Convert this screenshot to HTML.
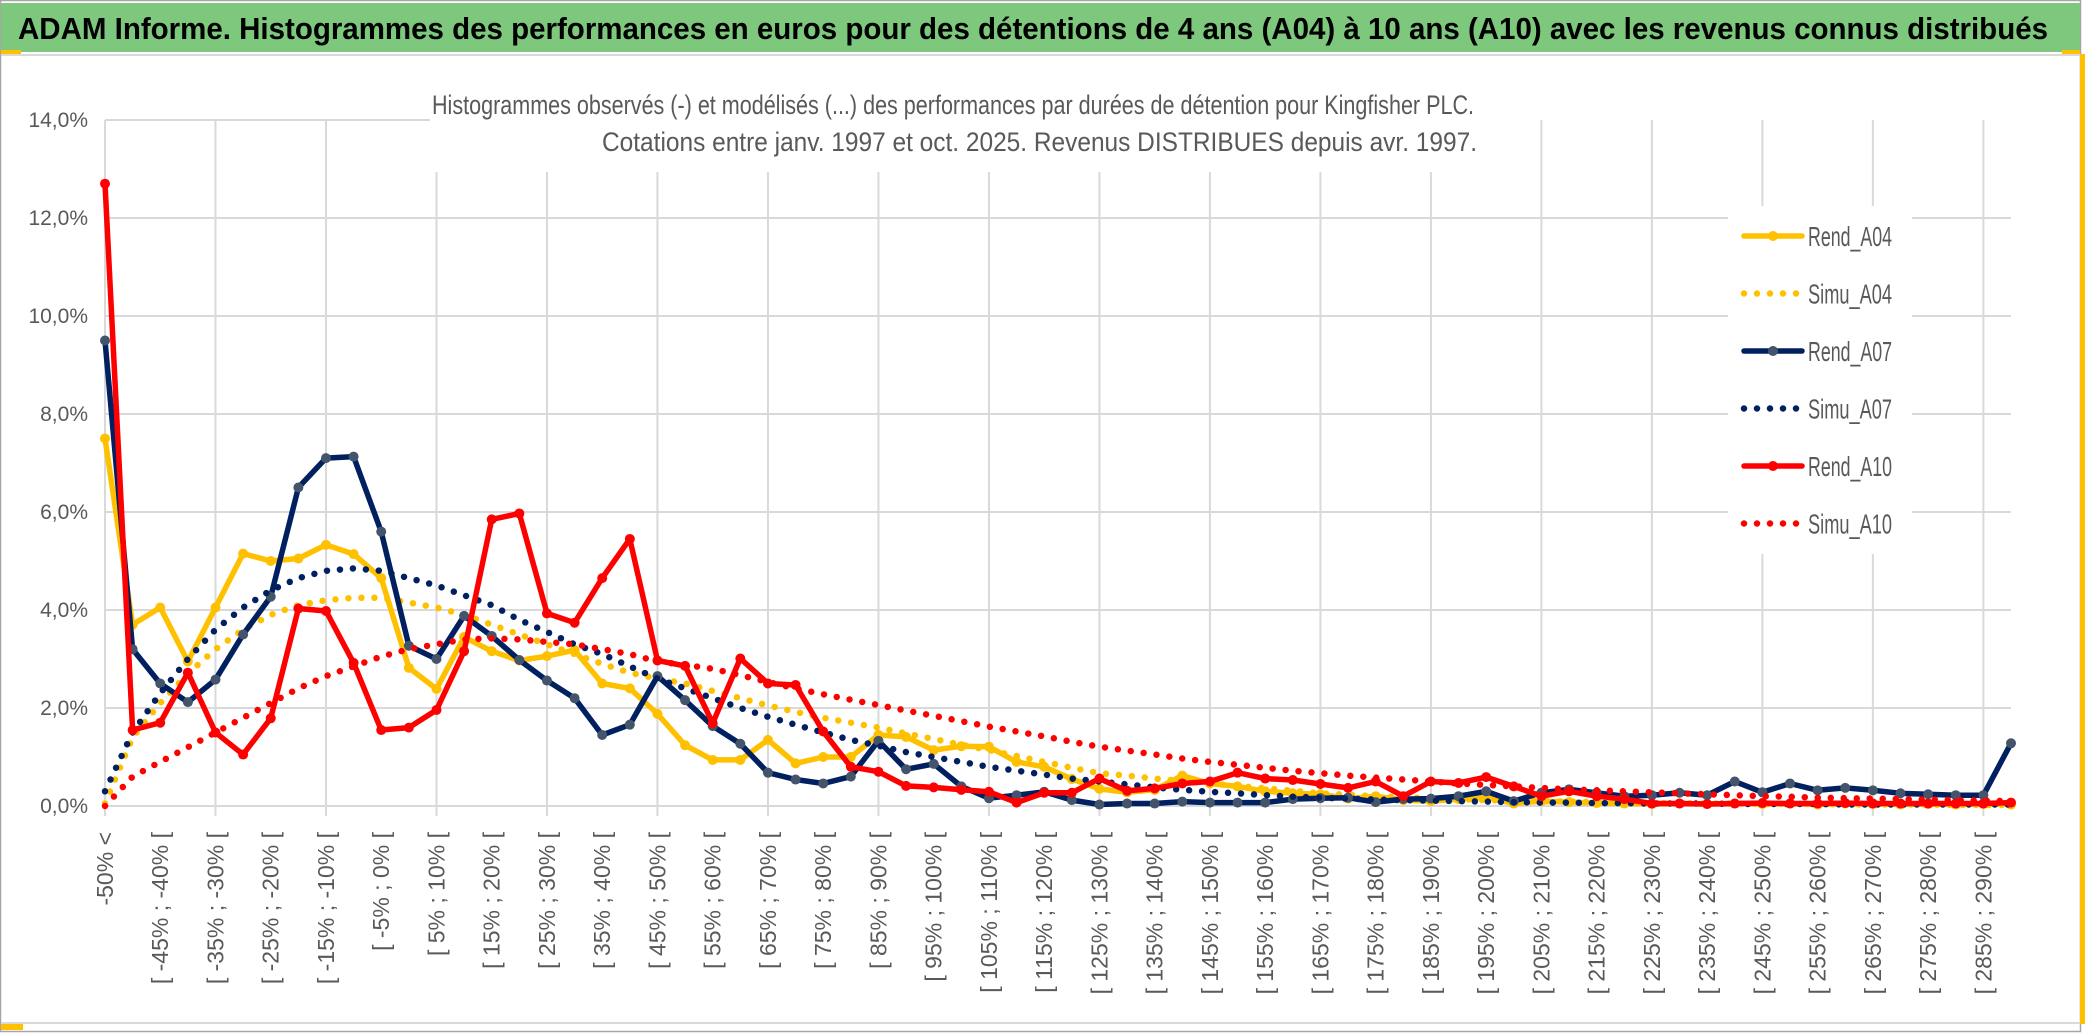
<!DOCTYPE html>
<html><head><meta charset="utf-8">
<style>
html,body{margin:0;padding:0;background:#fff;}
svg{display:block;font-family:"Liberation Sans",sans-serif;}
</style></head>
<body>
<svg id="chart" width="2086" height="1033" viewBox="0 0 2086 1033" xmlns="http://www.w3.org/2000/svg">
  <rect x="0" y="0" width="2086" height="1033" fill="#fff"/>
  <rect x="0.5" y="0.5" width="2080" height="1031" fill="none" stroke="#a6a6a6" stroke-width="1.5"/>
  <rect x="1" y="3" width="2079" height="49" fill="#7dc87d"/>
  <rect x="1" y="50" width="20" height="4" fill="#ffc000"/>
  <rect x="2062" y="50" width="18" height="4" fill="#ffc000"/>
  <rect x="2080" y="54" width="5" height="970" fill="#ffc000"/>
  <line x1="1" y1="55" x2="2080" y2="55" stroke="#d9d9d9" stroke-width="2"/>
  <line x1="1" y1="1023" x2="2080" y2="1023" stroke="#d9d9d9" stroke-width="2"/>
  <rect x="1" y="1024" width="22" height="6" fill="#ffc000"/>
  <text x="18" y="39" font-size="31" font-weight="bold" fill="#000" textLength="2030" lengthAdjust="spacingAndGlyphs">ADAM Informe. Histogrammes des performances en euros pour des détentions de 4 ans (A04) à 10 ans (A10) avec les revenus connus distribués</text>
  <g id="grid"></g>
  <g id="yaxis"></g>
  <g id="xaxis"></g>
  <rect x="430" y="84" width="1060" height="88" fill="#fff"/>
  <text x="1474" y="114" font-size="27" fill="#595959" text-anchor="end" textLength="1042" lengthAdjust="spacingAndGlyphs">Histogrammes observés (-) et modélisés (...) des performances par durées de détention pour Kingfisher PLC.</text>
  <text x="1477" y="151" font-size="27" fill="#595959" text-anchor="end" textLength="875" lengthAdjust="spacingAndGlyphs">Cotations entre janv. 1997 et oct. 2025. Revenus DISTRIBUES depuis avr. 1997.</text>
  <g id="series"></g>
  <rect x="1728" y="206" width="184" height="348" fill="#fff"/>
  <g id="legend"></g>
</svg>
<script>
const rendA04 = [7.5,3.7,4.05,2.95,4.05,5.15,5.0,5.05,5.33,5.14,4.65,2.82,2.39,3.45,3.16,2.97,3.06,3.18,2.5,2.4,1.88,1.24,0.94,0.94,1.35,0.87,1.0,1.0,1.45,1.41,1.14,1.22,1.21,0.9,0.8,0.55,0.35,0.28,0.33,0.62,0.46,0.4,0.3,0.26,0.24,0.15,0.2,0.12,0.1,0.14,0.18,0.05,0.1,0.08,0.06,0.05,0.04,0.05,0.04,0.05,0.04,0.05,0.03,0.05,0.04,0.03,0.04,0.03,0.04,0.03];
const simuA04 = [0.05,1.4,2.1,2.7,3.2,3.6,3.9,4.1,4.2,4.25,4.25,4.15,4.05,3.9,3.7,3.5,3.3,3.1,2.9,2.72,2.6,2.5,2.35,2.2,2.05,1.92,1.8,1.7,1.6,1.48,1.37,1.25,1.14,1.02,0.9,0.78,0.67,0.62,0.56,0.51,0.46,0.41,0.36,0.31,0.26,0.23,0.2,0.18,0.16,0.14,0.12,0.11,0.1,0.09,0.08,0.07,0.06,0.06,0.05,0.05,0.04,0.04,0.04,0.03,0.03,0.03,0.03,0.02,0.02,0.02];
const rendA07 = [9.5,3.2,2.5,2.12,2.58,3.5,4.27,6.5,7.1,7.13,5.6,3.27,3.0,3.88,3.47,2.98,2.56,2.2,1.45,1.66,2.65,2.16,1.63,1.27,0.68,0.54,0.46,0.6,1.33,0.75,0.86,0.4,0.16,0.22,0.29,0.12,0.03,0.05,0.05,0.09,0.07,0.07,0.07,0.14,0.16,0.17,0.08,0.14,0.15,0.2,0.3,0.1,0.27,0.34,0.27,0.2,0.22,0.27,0.22,0.5,0.28,0.46,0.32,0.37,0.32,0.26,0.24,0.22,0.22,1.28];
const simuA07 = [0.3,1.5,2.3,3.0,3.6,4.05,4.4,4.65,4.8,4.85,4.8,4.65,4.5,4.3,4.1,3.8,3.55,3.3,3.1,2.85,2.6,2.4,2.2,2.0,1.82,1.66,1.5,1.35,1.23,1.1,1.0,0.9,0.8,0.72,0.64,0.56,0.5,0.44,0.38,0.33,0.29,0.26,0.22,0.19,0.17,0.15,0.13,0.12,0.11,0.1,0.09,0.08,0.07,0.07,0.06,0.06,0.05,0.05,0.05,0.04,0.04,0.04,0.04,0.03,0.03,0.03,0.03,0.03,0.03,0.03];
const rendA10 = [12.7,1.55,1.7,2.72,1.5,1.05,1.79,4.03,3.98,2.92,1.55,1.6,1.96,3.16,5.85,5.97,3.93,3.74,4.65,5.45,2.97,2.86,1.69,3.01,2.5,2.47,1.52,0.8,0.7,0.41,0.38,0.33,0.29,0.07,0.27,0.27,0.56,0.31,0.36,0.46,0.5,0.68,0.56,0.53,0.45,0.37,0.5,0.2,0.5,0.47,0.59,0.4,0.2,0.3,0.2,0.14,0.05,0.05,0.04,0.05,0.06,0.05,0.05,0.06,0.05,0.05,0.05,0.05,0.05,0.07];
const simuA10 = [0.0,0.6,0.9,1.2,1.5,1.8,2.1,2.4,2.65,2.85,3.05,3.2,3.3,3.4,3.42,3.4,3.35,3.3,3.2,3.1,2.95,2.88,2.8,2.67,2.53,2.4,2.28,2.17,2.06,1.95,1.84,1.73,1.62,1.52,1.42,1.31,1.21,1.13,1.05,0.97,0.9,0.84,0.78,0.72,0.67,0.62,0.58,0.54,0.5,0.46,0.43,0.4,0.37,0.34,0.32,0.3,0.28,0.26,0.24,0.22,0.2,0.19,0.17,0.16,0.15,0.14,0.13,0.12,0.11,0.1];
const yTicks = [0,2,4,6,8,10,12,14];
const yTickLabels = ["0,0%","2,0%","4,0%","6,0%","8,0%","10,0%","12,0%","14,0%"];
const seriesNames = ["Rend_A04","Simu_A04","Rend_A07","Simu_A07","Rend_A10","Simu_A10"];
const categories = ["-50% <"];
for (let i = 1; i < 70; i++) { const lo = -50 + 5*(i-1); categories.push("[ " + lo + "% ; " + (lo+5) + "% ["); }

const NS = "http://www.w3.org/2000/svg";
const X0 = 105, X1 = 2011, Y0 = 806, Y14 = 120;
function xPos(i){ return X0 + (X1 - X0) * i / (categories.length - 1); }
function yPos(v){ return Y0 - (Y0 - Y14) * v / 14; }
function mk(tag, attrs, parent){ const e = document.createElementNS(NS, tag); for (const k in attrs) e.setAttribute(k, attrs[k]); parent.appendChild(e); return e; }

const grid = document.getElementById('grid');
yTicks.forEach((t, k) => {
  const l = mk('line', {x1: X0, x2: (t===14 ? 430 : X1), y1: yPos(t), y2: yPos(t), stroke: '#d9d9d9', 'stroke-width': 2}, grid);
  
  
});
for (let i = 0; i < categories.length; i += 4) {
  const l = mk('line', {x1: xPos(i), x2: xPos(i), y1: Y14, y2: Y0 + 10, stroke: '#d9d9d9', 'stroke-width': 2}, grid);
  
  
}
const yaxis = document.getElementById('yaxis');
yTicks.forEach((t, k) => {
  const tx = mk('text', {x: 88, y: yPos(t) + 7, 'font-size': 21, fill: '#595959', 'text-anchor': 'end'}, yaxis);
  tx.textContent = yTickLabels[k];
  
  
});
const xaxis = document.getElementById('xaxis');
categories.forEach((c, i) => {
  if (i % 2 !== 0) return;
  const x = xPos(i) + 8, y = 832;
  const tx = mk('text', {x: x, y: y, transform: 'rotate(-90 ' + x + ' ' + y + ')', 'font-size': 23, fill: '#595959', 'text-anchor': 'end'}, xaxis);
  tx.textContent = c;
  
  
});

const series = document.getElementById('series');
const specs = [
  {data: rendA04, color: '#ffc000', marker: '#ffc000', dotted: false},
  {data: simuA04, color: '#ffc000', dotted: true},
  {data: rendA07, color: '#002060', marker: '#44546a', dotted: false},
  {data: simuA07, color: '#002060', dotted: true},
  {data: rendA10, color: '#ff0000', marker: '#ff0000', dotted: false},
  {data: simuA10, color: '#ff0000', dotted: true}
];
specs.forEach((s, si) => {
  const g = mk('g', {}, series);
  
  
  const pts = s.data.map((v, i) => xPos(i).toFixed(1) + ',' + yPos(v).toFixed(1)).join(' ');
  const attrs = {points: pts, fill: 'none', stroke: s.color, 'stroke-linejoin': 'round'};
  if (s.dotted) { attrs['stroke-width'] = 6.5; attrs['stroke-dasharray'] = '0 13'; attrs['stroke-linecap'] = 'round'; }
  else { attrs['stroke-width'] = 5.5; attrs['stroke-linecap'] = 'round'; }
  const pl = mk('polyline', attrs, g);
  
  
  if (!s.dotted) {
    s.data.forEach((v, i) => {
      const c = mk('circle', {cx: xPos(i), cy: yPos(v), r: 5, fill: s.marker}, g);
      
      
    });
  }
});

const legend = document.getElementById('legend');
seriesNames.forEach((n, k) => {
  const s = specs[k];
  const y = 236 + k * 57.5;
  const g = mk('g', {}, legend);
  
  
  if (s.dotted) {
    const l = mk('line', {x1: 1744, x2: 1802, y1: y, y2: y, stroke: s.color, 'stroke-width': 6.5, 'stroke-dasharray': '0 13', 'stroke-linecap': 'round'}, g);
    
    
  } else {
    const l = mk('line', {x1: 1744, x2: 1802, y1: y, y2: y, stroke: s.color, 'stroke-width': 5.5, 'stroke-linecap': 'round'}, g);
    
    
    const c = mk('circle', {cx: 1773, cy: y, r: 5, fill: s.marker}, g);
    
    
  }
  const t = mk('text', {x: 1808, y: y + 10, 'font-size': 28, fill: '#595959', textLength: 84, lengthAdjust: 'spacingAndGlyphs'}, g);
  t.textContent = n;
  
  
});
</script>
</body></html>
